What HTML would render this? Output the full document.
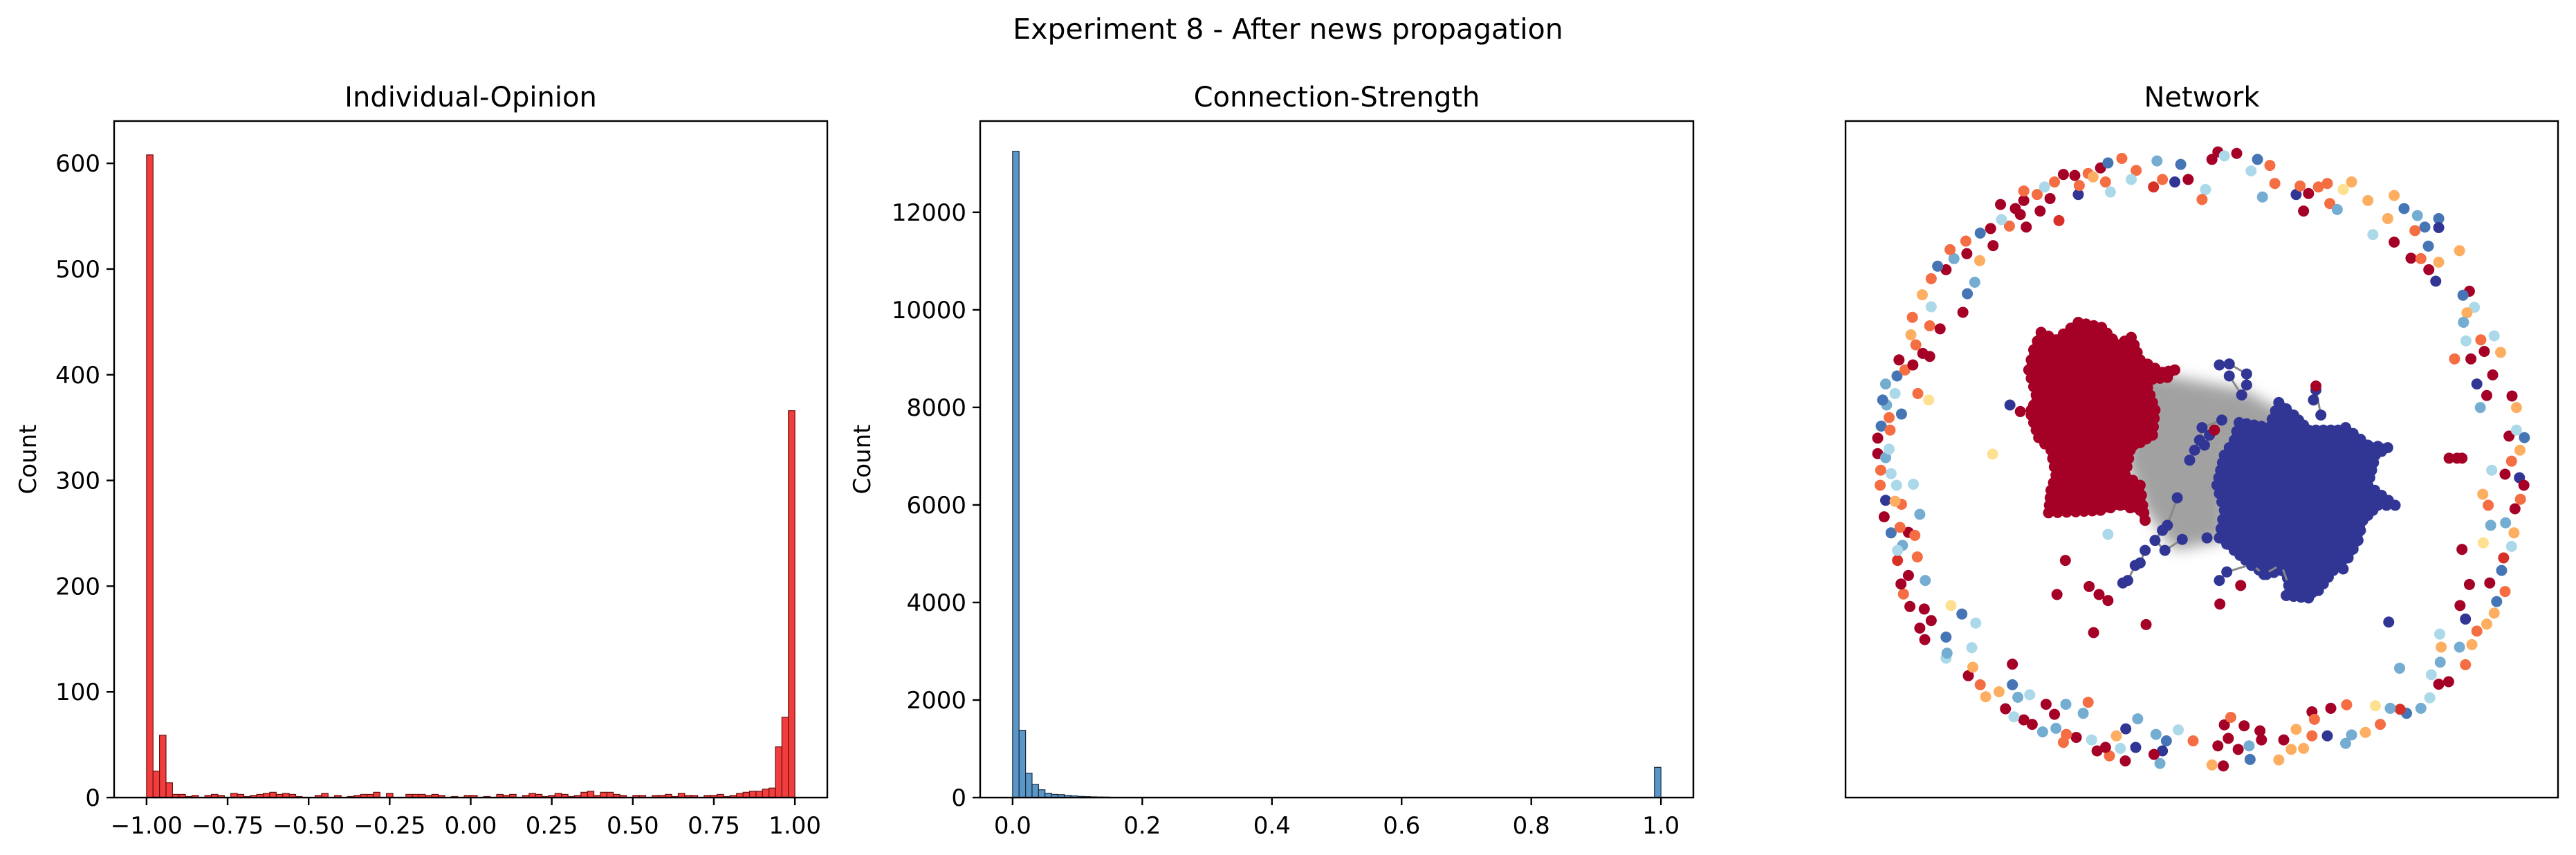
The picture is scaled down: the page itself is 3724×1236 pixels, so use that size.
<!DOCTYPE html>
<html><head><meta charset="utf-8"><style>
html,body{margin:0;padding:0;background:#fff;}
svg{display:block;font-family:"DejaVu Sans","Liberation Sans",sans-serif;}
</style></head><body>
<svg id="fig" width="3724" height="1236" viewBox="0 0 3724 1236" xmlns="http://www.w3.org/2000/svg">
<rect width="3724" height="1236" fill="#fff"/>
<text x="1862" y="56" font-size="41" text-anchor="middle" fill="#000">Experiment 8 - After news propagation</text>
<g id="ax1"></g>
<g id="ax2"></g>
<g id="ax3"></g>
</svg>
<script>
// ---- Individual-Opinion histogram data ----
const opinionBinStart = -1.0;
const opinionBinWidth = 0.02;
const opinionCounts = [608,25,59,14,
3,3,1,2,0,2,3,2,0,4, 3,1,2,3,4,5,3,4,3,1, 0,0,2,4,0,2,0,1,2,3, 3,5,0,4,0,0,3,3,3,2, 3,2,0,1,0,2,2,0,1,0,
3,2,3,0,2,4,3,1,2,4, 3,1,2,5,6,2,5,5,3,2, 0,2,2,0,2,2,3,1,4,2, 2,0,2,2,3,1,2,4,5,6,
6,8,9,48,76,366];
const opinionXTicks = [-1.0,-0.75,-0.5,-0.25,0,0.25,0.5,0.75,1.0];
const opinionXTickLabels = ["\u22121.00","\u22120.75","\u22120.50","\u22120.25","0.00","0.25","0.50","0.75","1.00"];
const opinionYTicks = [0,100,200,300,400,500,600];
// ---- Connection-Strength histogram data ----
const strengthBinStart = 0.0;
const strengthBinWidth = 0.01;
const strengthCounts = [13250,1380,500,270,160,90,65,60,45,35,25,20,15,12,10,5,4,3,2,2,1,1];
const strengthTailBin = 99;
const strengthTailCount = 620;
const strengthXTicks = [0,0.2,0.4,0.6,0.8,1.0];
const strengthXTickLabels = ["0.0","0.2","0.4","0.6","0.8","1.0"];
const strengthYTicks = [0,2000,4000,6000,8000,10000,12000];

// ---- Network node data (layout coordinates, colour class) ----
const ringNodes = [[535,210,'R'],[558,212,'R'],[585,208,'o'],[610,197,'R'],[625,187,'B'],[653,178,'o'],[682,202,'o'],[672,220,'c'],[724,183,'b'],[772,190,'B'],[835,180,'R'],[847,165,'R'],[860,173,'c'],[885,168,'R'],[927,180,'B'],[952,192,'o'],[914,203,'c'],[717,235,'r'],[735,220,'o'],[760,225,'D'],[787,220,'R'],[822,240,'c'],[815,260,'o'],[962,228,'o'],[1005,250,'D'],[1030,248,'R'],[1013,233,'o'],[1050,235,'o'],[1068,228,'o'],[1117,225,'y'],[1100,240,'p'],[1020,283,'R'],[937,255,'b'],[1073,268,'o'],[1088,280,'b'],[1150,262,'y'],[1203,252,'y'],[1223,278,'B'],[1190,298,'y'],[1250,292,'b'],[1293,298,'B'],[1265,315,'B'],[1293,316,'D'],[1245,322,'o'],[1160,330,'c'],[1203,345,'R'],[1272,353,'B'],[1237,377,'R'],[1257,378,'o'],[1293,385,'y'],[1335,362,'y'],[1273,400,'R'],[1287,423,'D'],[1355,443,'R'],[1342,451,'B'],[1365,475,'c'],[1350,486,'y'],[1343,505,'b'],[1348,542,'c'],[1378,540,'o'],[1405,532,'c'],[1385,563,'R'],[1358,578,'R'],[1325,578,'o'],[1418,565,'y'],[1402,610,'R'],[1370,628,'D'],[1390,651,'R'],[1441,652,'R'],[1377,675,'b'],[1450,675,'y'],[1435,732,'R'],[1466,735,'B'],[1450,720,'c'],[1457,760,'y'],[1440,782,'o'],[1427,808,'R'],[1456,815,'D'],[1465,830,'R'],[1400,800,'c'],[1447,877,'R'],[1458,858,'o'],[1382,848,'y'],[1393,870,'o'],[1398,910,'b'],[1428,905,'b'],[1445,925,'y'],[1440,952,'c'],[1424,975,'r'],[1420,1000,'B'],[1340,958,'R'],[1383,945,'p'],[1355,1028,'R'],[1396,1025,'R'],[1427,1042,'o'],[1410,1062,'B'],[1405,1085,'y'],[1336,1070,'R'],[1347,1097,'D'],[1390,1107,'y'],[1370,1121,'o'],[1295,1127,'c'],[1335,1153,'b'],[1360,1148,'y'],[1298,1153,'y'],[1296,1183,'b'],[1347,1188,'o'],[1278,1208,'c'],[1293,1227,'R'],[1313,1222,'R'],[1214,1195,'b'],[1275,1254,'c'],[1257,1275,'b'],[1228,1285,'B'],[1215,1277,'r'],[1195,1275,'b'],[1175,1307,'o'],[1165,1270,'p'],[1145,1323,'y'],[1117,1328,'b'],[1105,1345,'b'],[1107,1268,'o'],[1075,1275,'R'],[1037,1282,'R'],[1042,1297,'o'],[1068,1330,'D'],[1037,1330,'o'],[1005,1317,'y'],[980,1338,'R'],[1020,1355,'y'],[995,1357,'y'],[970,1378,'y'],[932,1320,'R'],[935,1338,'R'],[900,1310,'R'],[910,1350,'b'],[912,1377,'B'],[888,1357,'R'],[868,1335,'R'],[860,1308,'R'],[873,1293,'o'],[847,1350,'R'],[858,1390,'R'],[835,1388,'y'],[797,1340,'o'],[767,1318,'c'],[743,1340,'B'],[735,1360,'D'],[718,1367,'R'],[730,1385,'b'],[722,1327,'b'],[685,1296,'b'],[681,1353,'D'],[660,1380,'R'],[661,1316,'D'],[642,1330,'y'],[650,1355,'c'],[628,1370,'o'],[620,1353,'R'],[603,1360,'R'],[592,1338,'c'],[585,1263,'o'],[575,1285,'b'],[561,1333,'R'],[541,1327,'o'],[535,1343,'o'],[540,1267,'b'],[517,1287,'R'],[520,1315,'b'],[500,1267,'R'],[493,1322,'b'],[472,1307,'R'],[455,1298,'R'],[435,1292,'c'],[418,1276,'R'],[467,1248,'c'],[443,1253,'b'],[432,1228,'B'],[432,1187,'R'],[405,1242,'y'],[378,1252,'y'],[367,1228,'o'],[343,1210,'R'],[352,1193,'y'],[350,1154,'c'],[330,1087,'B'],[358,1105,'c'],[298,1133,'B'],[298,1175,'c'],[300,1165,'b'],[308,1070,'p'],[256,1020,'b'],[255,1138,'R'],[245,1115,'R'],[268,1100,'R'],[254,1077,'R'],[225,1072,'R'],[212,1047,'o'],[207,1027,'R'],[222,1010,'R'],[200,980,'r'],[240,973,'o'],[210,950,'b'],[200,960,'c'],[187,925,'B'],[222,924,'R'],[235,930,'o'],[205,914,'o'],[173,893,'R'],[245,888,'b'],[176,860,'D'],[208,868,'o'],[195,862,'y'],[198,830,'c'],[232,828,'c'],[165,830,'o'],[187,807,'c'],[166,800,'o'],[160,767,'R'],[176,775,'b'],[183,758,'c'],[160,736,'R'],[167,712,'B'],[185,720,'o'],[183,695,'o'],[208,688,'B'],[178,670,'b'],[170,660,'B'],[195,647,'c'],[176,628,'b'],[241,647,'o'],[263,660,'p'],[199,612,'B'],[215,600,'o'],[231,590,'R'],[203,580,'R'],[251,567,'R'],[265,573,'R'],[237,550,'o'],[227,530,'y'],[265,512,'o'],[286,518,'R'],[230,495,'o'],[268,474,'c'],[250,450,'y'],[341,448,'B'],[356,425,'b'],[268,418,'o'],[298,400,'R'],[281,393,'B'],[314,378,'b'],[366,382,'y'],[340,368,'R'],[306,360,'o'],[338,343,'o'],[393,352,'R'],[367,327,'B'],[388,318,'R'],[426,313,'o'],[410,300,'c'],[408,270,'R'],[438,278,'R'],[448,290,'R'],[460,315,'R'],[455,262,'R'],[455,243,'o'],[482,250,'o'],[488,283,'R'],[497,235,'c'],[508,258,'R'],[517,225,'o'],[526,302,'r'],[565,250,'D'],[567,232,'o'],[595,215,'y'],[620,225,'o'],[630,245,'c'],[332,485,'R'],[392,768,'p'],[625,928,'c']];
const innerNodes = [[427,670,'D'],[448,683,'R'],[470,680,'R'],[539,980,'R'],[522,1048,'R'],[587,1032,'R'],[607,1048,'R'],[625,1060,'R'],[596,1124,'R'],[702,1108,'R'],[851,1067,'R'],[893,1030,'R'],[1192,1103,'D'],[1314,776,'R'],[1330,776,'R'],[1340,776,'R'],[1045,632,'R'],[840,720,'R']];
const redCluster = [[490,525],[520,540],[565,505],[612,515],[645,550],[672,535],[690,580],[735,605],[760,600],[745,615],[700,620],[710,650],[720,680],[715,730],[690,745],[670,760],[660,810],[690,830],[695,870],[700,900],[690,880],[650,870],[610,880],[560,883],[505,885],[510,840],[520,810],[510,760],[485,735],[470,690],[480,650],[465,600],[475,560]];
const blueCluster = [[890,705],[950,715],[970,665],[1000,690],[1030,720],[1090,720],[1105,715],[1150,750],[1190,755],[1165,770],[1150,830],[1205,870],[1170,870],[1140,900],[1130,940],[1110,975],[1080,1000],[1050,1040],[1030,1055],[985,1050],[1000,1030],[975,1000],[945,1008],[915,990],[880,960],[850,935],[860,880],[845,830],[860,770],[880,740]];
const blueBridge = [[850,590],[870,588],[905,608],[905,630],[895,650],[870,612],[855,700],[815,715],[810,740],[800,760],[790,780],[765,855],[745,910],[735,920],[720,940],[740,960],[775,938],[700,960],[690,985],[680,990],[665,1020],[655,1025],[825,935],[850,1020],[865,1003],[915,988],[940,1008],[975,988],[990,1030],[985,1050],[1040,660],[1045,640],[1055,690],[1100,997],[1030,1030],[830,730],[820,750]];
const edgeBand = [[680,600],[740,610],[900,640],[990,690],[980,760],[880,760],[860,940],[760,960],[700,880],[660,780]];

const NS='http://www.w3.org/2000/svg';
function mk(tag, attrs, parent){const e=document.createElementNS(NS,tag);for(const k in attrs)e.setAttribute(k,attrs[k]);parent.appendChild(e);return e;}

function drawHist(g, box, xmin, xmax, ymax, width, counts, fill, edge, xt, xtl, yt, title, ylabelX){
  const sx=v=>box.x+(v-xmin)/(xmax-xmin)*box.w;
  const sy=v=>box.y+box.h-v/ymax*box.h;
  for(let i=0;i<counts.length;i++){
    const c=counts[i]; if(c[1]<=0) continue;
    const x0=sx(c[0]), x1=sx(c[0]+width);
    const r=mk('rect',{x:x0,y:sy(c[1]),width:x1-x0,height:sy(0)-sy(c[1]),fill:fill,stroke:edge,'stroke-width':1.2},g);
    
    
  }
  const fr=mk('rect',{x:box.x,y:box.y,width:box.w,height:box.h,fill:'none',stroke:'#000','stroke-width':2.4},g);
  
  
  for(let i=0;i<xt.length;i++){
    const x=sx(xt[i]);
    mk('line',{x1:x,x2:x,y1:box.y+box.h,y2:box.y+box.h+11,stroke:'#000','stroke-width':2.4},g);
    const t=mk('text',{x:x,y:box.y+box.h+52,'font-size':34,'text-anchor':'middle'},g);
    t.textContent=xtl[i];
    
    
  }
  for(let i=0;i<yt.length;i++){
    const y=sy(yt[i]);
    mk('line',{x1:box.x-11,x2:box.x,y1:y,y2:y,stroke:'#000','stroke-width':2.4},g);
    const t=mk('text',{x:box.x-20,y:y+12,'font-size':34,'text-anchor':'end'},g);
    t.textContent=String(yt[i]);
    
    
  }
  const tt=mk('text',{x:box.x+box.w/2,y:154,'font-size':40,'text-anchor':'middle'},g);
  tt.textContent=title;
  
  
  const yl=mk('text',{x:ylabelX,y:box.y+box.h/2,'font-size':34,'text-anchor':'middle',transform:`rotate(-90 ${ylabelX} ${box.y+box.h/2})`},g);
  yl.textContent='Count';
  
  
}

const op=opinionCounts.map((c,i)=>[opinionBinStart+i*opinionBinWidth,c]);
drawHist(document.getElementById('ax1'),{x:165,y:175,w:1031,h:978},-1.1,1.1,640,opinionBinWidth,op,'rgba(240,40,40,0.9)','#6a1010',opinionXTicks,opinionXTickLabels,opinionYTicks,'Individual-Opinion',52);
const st=strengthCounts.map((c,i)=>[strengthBinStart+i*strengthBinWidth,c]);
st.push([strengthBinStart+strengthTailBin*strengthBinWidth,strengthTailCount]);
drawHist(document.getElementById('ax2'),{x:1417,y:175,w:1031,h:978},-0.05,1.05,13870,strengthBinWidth,st,'#5a96c8','#1a2a3a',strengthXTicks,strengthXTickLabels,strengthYTicks,'Connection-Strength',1258);

// Panel 3 network
const g3=document.getElementById('ax3');
const nx=p=>2600+p/1.397, ny=p=>100+p/1.38;
const R=8;
const colorMap={R:'#a50026',r:'#d73027',o:'#f46d43',y:'#fdae61',p:'#fee090',c:'#abd9e9',b:'#74add1',B:'#4575b4',D:'#313695'};
const defs=mk('defs',{},g3);
const f=mk('filter',{id:'blur',x:'-30%',y:'-30%',width:'160%',height:'160%'},defs);
mk('feGaussianBlur',{stdDeviation:10},f);
const eb=mk('polygon',{points:edgeBand.map(p=>nx(p[0])+','+ny(p[1])).join(' '),fill:'#8a8a8a',opacity:0.8,filter:'url(#blur)'},g3);


function node(x,y,col){
  const c=mk('circle',{cx:x,cy:y,r:R,fill:col},g3);
  
  
}
function blob(pts,col,name){
  const pg=mk('polygon',{points:pts.map(p=>nx(p[0])+','+ny(p[1])).join(' '),fill:col,stroke:col,'stroke-width':10,'stroke-linejoin':'round'},g3);
  
  
  for(let i=0;i<pts.length;i++){
    const a=pts[i], b=pts[(i+1)%pts.length];
    const x0=nx(a[0]),y0=ny(a[1]),x1=nx(b[0]),y1=ny(b[1]);
    const n=Math.max(1,Math.round(Math.hypot(x1-x0,y1-y0)/12));
    for(let k=0;k<n;k++) node(x0+(x1-x0)*k/n,y0+(y1-y0)*k/n,col);
  }
}
blob(redCluster,'#a50026','red-cluster');
blob(blueCluster,'#313695','blue-cluster');
for(let i=1;i<blueBridge.length;i++){
  const a=blueBridge[i-1],b=blueBridge[i];
  if(Math.hypot(a[0]-b[0],a[1]-b[1])<60) mk('line',{x1:nx(a[0]),y1:ny(a[1]),x2:nx(b[0]),y2:ny(b[1]),stroke:'#888','stroke-width':3},g3);
}
blueBridge.forEach(p=>node(nx(p[0]),ny(p[1]),'#313695'));
ringNodes.concat(innerNodes).forEach(p=>node(nx(p[0]),ny(p[1]),colorMap[p[2]]||'#abd9e9'));
const fr3=mk('rect',{x:2668,y:175,width:1030,height:978,fill:'none',stroke:'#000','stroke-width':2.4},g3);


const t3=mk('text',{x:3183,y:154,'font-size':40,'text-anchor':'middle'},g3);
t3.textContent='Network';


</script>
</body></html>
